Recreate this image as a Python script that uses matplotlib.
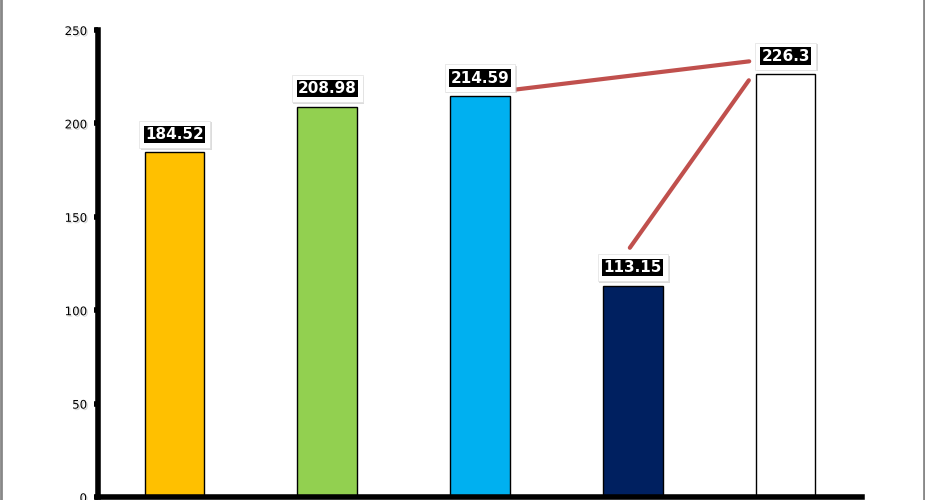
import matplotlib.pyplot as plt
import matplotlib.patheffects as pe
from matplotlib.lines import Line2D

categories = ['A', 'B', 'C', 'D', 'E']
values = [184.52, 208.98, 214.59, 113.15, 226.3]
labels = ['184.52', '208.98', '214.59', '113.15', '226.3']
colors = ['#FFC000', '#92D050', '#00B0F0', '#002060', '#FFFFFF']
yticks = [0, 50, 100, 150, 200, 250]

fig = plt.figure(figsize=(9.25, 5), dpi=100)
ax = fig.add_axes([98 / 925, 3 / 500, 764 / 925, 467 / 500])

x = list(range(len(categories)))
ax.bar(x, values, width=0.39, color=colors, edgecolor='black', linewidth=1, zorder=2)
ax.set_xlim(-0.5, len(categories) - 0.5)
ax.set_ylim(0, 250)

for s in ['top', 'right']:
    ax.spines[s].set_visible(False)
ax.spines['left'].set_linewidth(4)
ax.spines['bottom'].set_linewidth(4)
ax.set_xticks([])
ax.set_yticks(yticks)
ax.tick_params(axis='y', length=3, width=4, pad=5, labelsize=8.5)
for t in ax.get_yticklabels():
    t.set_bbox(dict(boxstyle='square,pad=0.15', fc='white', ec='none'))
    t.set_path_effects([pe.withSimplePatchShadow(offset=(1, -1), shadow_rgbFace='#999999', alpha=0.4)])

# connector lines between labels
ax.annotate('', xy=(3.78, 233.4), xytext=(2.21, 217.9),
            arrowprops=dict(arrowstyle='-', color='#C0504D', lw=3))
ax.annotate('', xy=(3.77, 224.3), xytext=(2.97, 132.2),
            arrowprops=dict(arrowstyle='-', color='#C0504D', lw=3))

for xi, v, lab in zip(x, values, labels):
    # outer white box with shadow
    ax.annotate(lab, xy=(xi, v), xytext=(0, 13), textcoords='offset points',
                ha='center', va='center', fontsize=11, fontweight='bold', color='white',
                bbox=dict(boxstyle='square,pad=0.4', fc='white', ec='#e0e0e0', lw=0.5),
                zorder=4)
    ax.annotate(lab, xy=(xi, v), xytext=(1.2, 11.8), textcoords='offset points',
                ha='center', va='center', fontsize=11, fontweight='bold', color='none',
                bbox=dict(boxstyle='square,pad=0.4', fc='#bbbbbb', ec='none', alpha=0.5),
                zorder=3)
    ax.annotate(lab, xy=(xi, v), xytext=(0, 13), textcoords='offset points',
                ha='center', va='center', fontsize=11, fontweight='bold', color='white',
                bbox=dict(boxstyle='square,pad=0.08', fc='black', ec='none'),
                zorder=5)

fig.add_artist(Line2D([0.001, 0.001], [0, 1], transform=fig.transFigure, color='#888888', lw=2))
fig.add_artist(Line2D([0.999, 0.999], [0, 1], transform=fig.transFigure, color='#888888', lw=2))

fig.savefig('out.png', dpi=100)
